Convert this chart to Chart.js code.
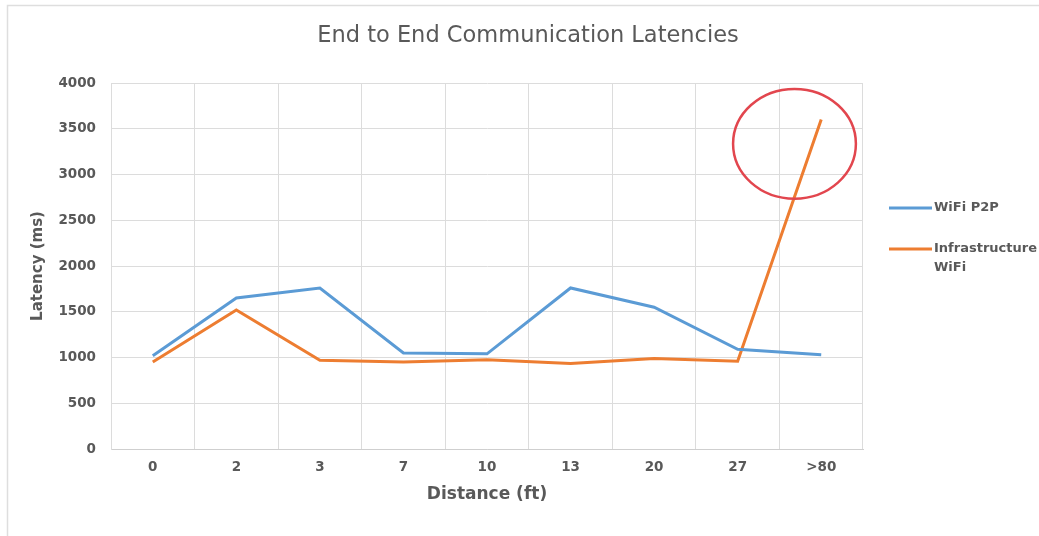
<!DOCTYPE html>
<html>
<head>
<meta charset="utf-8">
<script src="https://cdn.jsdelivr.net/npm/chart.js@4.4.1/dist/chart.umd.min.js"></script>
<style>
  html, body { margin: 0; padding: 0; background: #fff; }
  #wrap { width: 1039px; height: 536px; position: relative; }
</style>
</head>
<body>
<div id="wrap"><canvas id="c" width="1039" height="536"></canvas></div>
<script>
// ---- data ----
const categories = ["0", "2", "3", "7", "10", "13", "20", "27", ">80"];
const wifiP2P = [1020, 1650, 1760, 1050, 1040, 1760, 1550, 1090, 1030];
const infraWifi = [950, 1520, 970, 950, 975, 935, 990, 960, 3600];
const seriesNames = ["WiFi P2P", ["Infrastructure", "WiFi"]];
const yTicks = [0, 500, 1000, 1500, 2000, 2500, 3000, 3500, 4000];
const chartTitle = "End to End Communication Latencies";
const xTitle = "Distance (ft)";
const yTitle = "Latency (ms)";
// highlight ellipse (category index, value, radius in categories, radius in value units)
const highlight = { x: 7.68, y: 3335, rx: 0.735, ry: 600 };

const BLUE = "#5B9BD5", ORANGE = "#ED7D31", TXT = "#595959", GRID = "#dcdcdc";
const FONT = "'DejaVu Sans', sans-serif";

const decor = {
  id: "decor",
  beforeDraw(chart) {
    const ctx = chart.ctx;
    ctx.save();
    ctx.strokeStyle = "#dedede";
    ctx.lineWidth = 1.5;
    ctx.beginPath();
    ctx.moveTo(7.5, 540); ctx.lineTo(7.5, 5.5); ctx.lineTo(1045, 5.5);
    ctx.stroke();
    ctx.restore();
  },
  afterDraw(chart) {
    const ctx = chart.ctx;
    const xs = chart.scales.x, ys = chart.scales.y;
    ctx.save();
    // title
    ctx.fillStyle = TXT;
    ctx.font = "22.5px " + FONT;
    ctx.textAlign = "center";
    ctx.textBaseline = "middle";
    ctx.fillText(chartTitle, 528, 36);
    // legend
    const ds = chart.data.datasets;
    const legY = [208, 249];
    ctx.font = "bold 13px " + FONT;
    ctx.textAlign = "left";
    ds.forEach((d, i) => {
      ctx.strokeStyle = d.borderColor;
      ctx.lineWidth = 3;
      ctx.beginPath();
      ctx.moveTo(889, legY[i]); ctx.lineTo(932, legY[i]);
      ctx.stroke();
      const lines = Array.isArray(seriesNames[i]) ? seriesNames[i] : [seriesNames[i]];
      ctx.fillStyle = TXT;
      lines.forEach((t, k) => ctx.fillText(t, 934, legY[i] + k * 19));
    });
    // red ellipse
    const cx = xs.getPixelForValue(highlight.x);
    const cy = ys.getPixelForValue(highlight.y);
    const rx = Math.abs(xs.getPixelForValue(highlight.x + highlight.rx) - cx);
    const ry = Math.abs(ys.getPixelForValue(highlight.y + highlight.ry) - cy);
    ctx.strokeStyle = "#E2464E";
    ctx.lineWidth = 2.5;
    ctx.beginPath();
    ctx.ellipse(cx, cy, rx, ry, 0, 0, Math.PI * 2);
    ctx.stroke();
    ctx.restore();
  }
};

new Chart(document.getElementById("c"), {
  type: "line",
  data: {
    labels: categories,
    datasets: [
      { label: "WiFi P2P", data: wifiP2P, borderColor: BLUE, backgroundColor: BLUE,
        borderWidth: 3, pointRadius: 0, tension: 0 },
      { label: "Infrastructure WiFi", data: infraWifi, borderColor: ORANGE, backgroundColor: ORANGE,
        borderWidth: 3, pointRadius: 0, tension: 0 }
    ]
  },
  options: {
    responsive: false,
    animation: false,
    layout: { padding: { top: 83, right: 176, left: 0, bottom: 0 } },
    plugins: { legend: { display: false }, title: { display: false }, tooltip: { enabled: false } },
    scales: {
      x: {
        type: "category",
        offset: true,
        grid: { offset: true, color: GRID, drawTicks: false },
        border: { color: "#cfcfcf" },
        ticks: { color: TXT, font: { family: FONT, size: 13.5, weight: "bold" }, padding: 10 },
        title: { display: true, text: xTitle, color: TXT,
                 font: { family: FONT, size: 17, weight: "bold" }, padding: { top: 0, bottom: 31 } },
        afterFit(s) { s.height = 87; }
      },
      y: {
        min: 0, max: 4000,
        afterBuildTicks(s) { s.ticks = yTicks.map(v => ({ value: v })); },
        grid: { color: GRID, drawTicks: false },
        border: { color: GRID },
        ticks: { color: TXT, font: { family: FONT, size: 13.5, weight: "bold" }, padding: 15,
                 callback: (v) => String(v) },
        title: { display: true, text: yTitle, color: TXT,
                 font: { family: FONT, size: 15, weight: "bold" }, padding: { top: 29, bottom: 0 } },
        afterFit(s) { s.width = 111; }
      }
    }
  },
  plugins: [decor]
});
</script>
</body>
</html>
